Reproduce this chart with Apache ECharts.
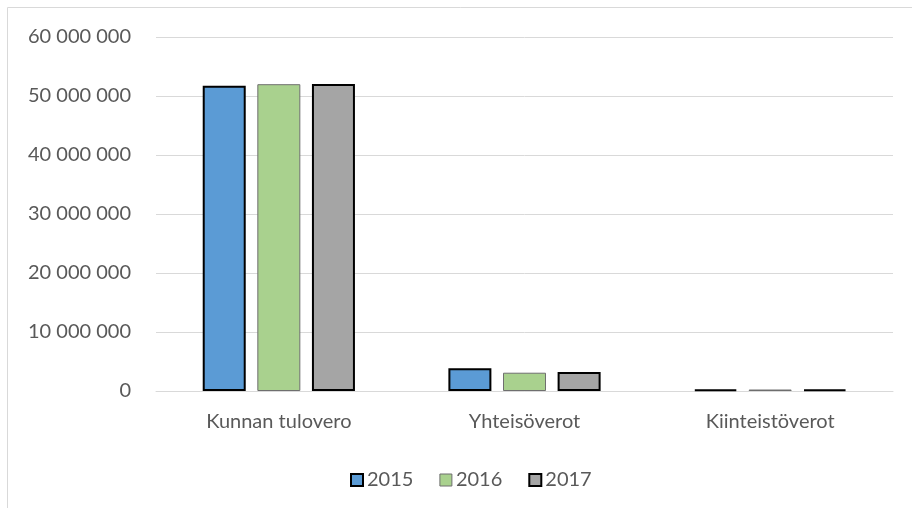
<!DOCTYPE html>
<html><head><meta charset="utf-8">
<script src="https://cdn.jsdelivr.net/npm/echarts@6/dist/echarts.min.js"></script>
<style>html,body{margin:0;padding:0;background:#fff}#c{width:912px;height:508px}</style>
</head><body><div id="c"></div>
<script>
var categories = ['Kunnan tulovero', 'Yhteisöverot', 'Kiinteistöverot'];
var seriesNames = ['2015', '2016', '2017'];
var v2015 = [51750000, 3850000, 250000];
var v2016 = [52000000, 3100000, 250000];
var v2017 = [52050000, 3200000, 250000];
var yTicks = [0, 10000000, 20000000, 30000000, 40000000, 50000000, 60000000];

var values = [v2015, v2016, v2017];
var colors = ['#5b9bd5', '#a9d18e', '#a5a5a5'];
var borders = ['#000000', '#6f6f6f', '#000000'];
var bw = [2, 1, 2];
function fmt(v){ return String(v).replace(/\B(?=(\d{3})+(?!\d))/g, ' '); }
var chart = echarts.init(document.getElementById('c'));
var font = 'Lato';
chart.setOption({
  animation: false,
  textStyle: {fontFamily: font},
  graphic: [{type:'rect', shape:{x:7.5,y:7.5,width:1000,height:1000}, style:{fill:'none', stroke:'#d9d9d9', lineWidth:1}, silent:true}],
  grid: {left:156, right:19, top:37, bottom:117},
  legend: {
    top: 465, left: 345, itemWidth: 12, itemHeight: 12, itemGap: 26,
    textStyle: {fontSize: 20, color: '#595959', fontFamily: font, padding:[0,0,0,-1]},
    data: seriesNames.map(function(n,i){return {name:n, icon:'rect', itemStyle:{borderColor:borders[i], borderWidth:bw[i]}};})
  },
  xAxis: {
    type:'category', data: categories,
    axisLine:{lineStyle:{color:'#d9d9d9'}}, axisTick:{show:false},
    axisLabel:{color:'#595959', fontSize:20, margin:21, fontFamily:font}
  },
  yAxis: {
    type:'value', min:0, max:60000000, interval:10000000,
    axisLine:{show:false}, axisTick:{show:false},
    splitLine:{lineStyle:{color:'#d9d9d9'}},
    axisLabel:{color:'#595959', fontSize:20, margin:25, fontFamily:font, formatter:function(v){return fmt(v);}}
  },
  series: seriesNames.map(function(n,i){
    return {name:n, type:'bar', data: values[i], barWidth:43, barGap:'27%',
      itemStyle:{color:colors[i], borderColor:borders[i], borderWidth:bw[i]}};
  })
});
</script></body></html>
